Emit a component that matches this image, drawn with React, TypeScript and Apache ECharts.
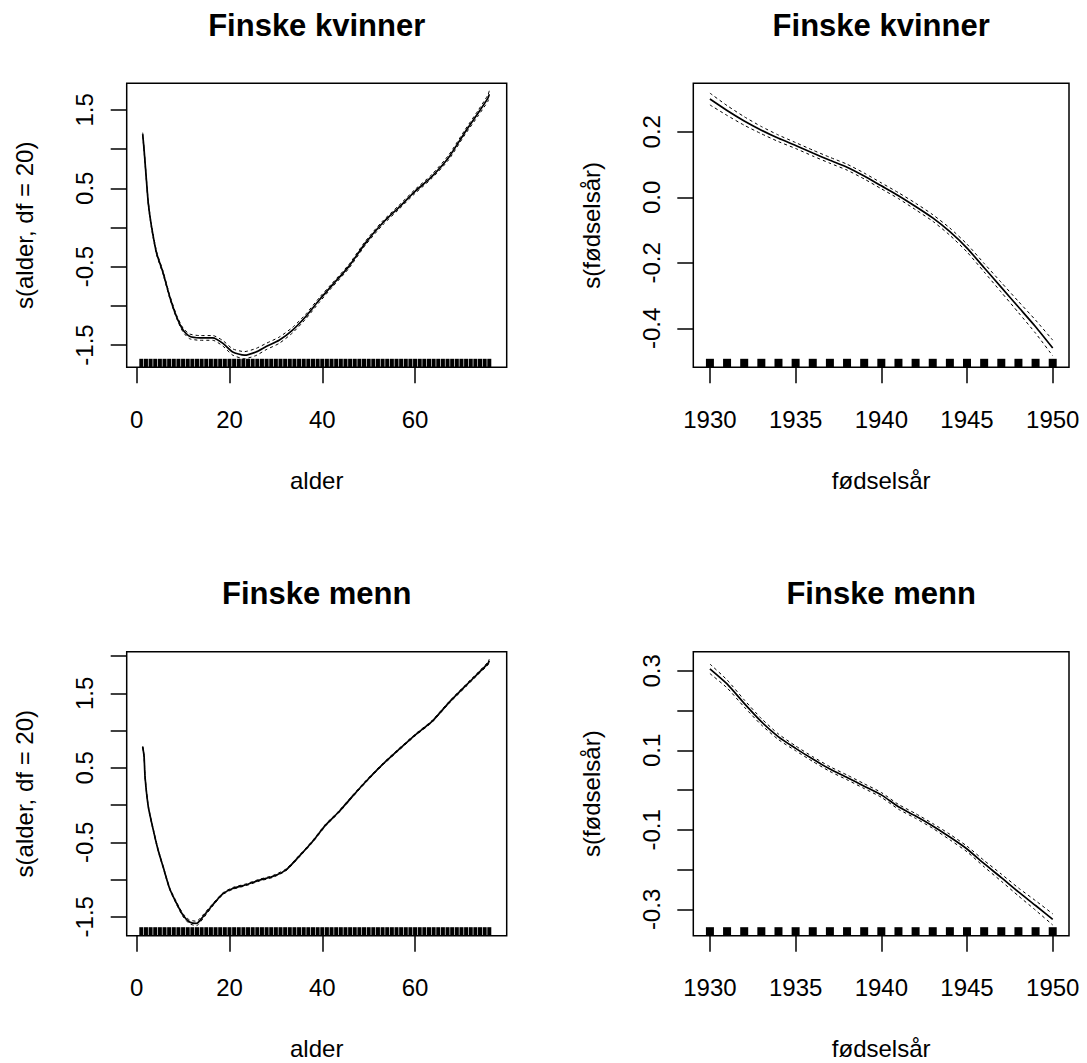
import React, { useEffect, useRef } from 'react';
import * as echarts from 'echarts';

const FONT = '"Liberation Sans", Arial, Helvetica, sans-serif';

// ---------- Panel titles / axis names ----------
const titles = ['Finske kvinner', 'Finske kvinner', 'Finske menn', 'Finske menn'];
const xNames = ['alder', 'fødselsår', 'alder', 'fødselsår'];
const yNames = ['s(alder, df = 20)', 's(fødselsår)', 's(alder, df = 20)', 's(fødselsår)'];

// ---------- Tick values ----------
const ageTicks = [0, 20, 40, 60];
const yearTicks = [1930, 1935, 1940, 1945, 1950];
const kvAlderYTicks = [-1.5, -1.0, -0.5, 0.0, 0.5, 1.0, 1.5];
const kvAlderYLabels = [-1.5, -0.5, 0.5, 1.5];
const kvAarYTicks = [-0.4, -0.2, 0.0, 0.2];
const kvAarYLabels = [-0.4, -0.2, 0.0, 0.2];
const mnAlderYTicks = [-1.5, -1.0, -0.5, 0.0, 0.5, 1.0, 1.5, 2.0];
const mnAlderYLabels = [-1.5, -0.5, 0.5, 1.5];
const mnAarYTicks = [-0.3, -0.2, -0.1, 0.0, 0.1, 0.2, 0.3];
const mnAarYLabels = [-0.3, -0.1, 0.1, 0.3];

// ---------- Rug values ----------
const rugAges = [
  1, 2, 3, 4, 5, 6, 7, 8, 9, 10, 11, 12, 13, 14, 15, 16, 17, 18, 19, 20,
  21, 22, 23, 24, 25, 26, 27, 28, 29, 30, 31, 32, 33, 34, 35, 36, 37, 38, 39, 40,
  41, 42, 43, 44, 45, 46, 47, 48, 49, 50, 51, 52, 53, 54, 55, 56, 57, 58, 59, 60,
  61, 62, 63, 64, 65, 66, 67, 68, 69, 70, 71, 72, 73, 74, 75, 76,
];
const rugYears = [
  1930, 1931, 1932, 1933, 1934, 1935, 1936, 1937, 1938, 1939, 1940,
  1941, 1942, 1943, 1944, 1945, 1946, 1947, 1948, 1949, 1950,
];

// ---------- Finske kvinner: s(alder) ----------
const kvAlderX = [1.3, 1.6, 1.9, 2.5, 3.2, 4.3, 5.7, 7.1, 8.6, 10, 11.4, 13.6, 16.4, 18.6, 20.7, 23.2, 25.7, 27.9, 30.7, 33.6, 36.4, 39.3, 42.1, 45.7, 49.3, 52.9, 56.4, 60, 63.6, 67.2, 70.7, 73.6, 75.7, 76];
const kvAlderFit = [1.19, 0.99, 0.76, 0.31, 0.01, -0.33, -0.58, -0.88, -1.14, -1.31, -1.39, -1.41, -1.41, -1.48, -1.59, -1.63, -1.59, -1.52, -1.44, -1.31, -1.14, -0.93, -0.74, -0.50, -0.20, 0.05, 0.25, 0.46, 0.65, 0.89, 1.21, 1.46, 1.65, 1.70];
const kvAlderSe = [0.02, 0.02, 0.02, 0.02, 0.02, 0.02, 0.02, 0.02, 0.02, 0.025, 0.03, 0.03, 0.03, 0.035, 0.04, 0.045, 0.045, 0.04, 0.04, 0.035, 0.03, 0.03, 0.025, 0.025, 0.025, 0.025, 0.025, 0.025, 0.025, 0.03, 0.03, 0.035, 0.04, 0.045];

// ---------- Finske kvinner: s(fødselsår) ----------
const kvAarX = rugYears;
const kvAarFit = [0.300, 0.265, 0.233, 0.205, 0.180, 0.158, 0.135, 0.113, 0.092, 0.065, 0.035, 0.005, -0.028, -0.063, -0.105, -0.155, -0.215, -0.275, -0.335, -0.395, -0.460];
const kvAarSe = [0.018, 0.015, 0.013, 0.011, 0.010, 0.009, 0.009, 0.009, 0.009, 0.009, 0.009, 0.009, 0.010, 0.010, 0.011, 0.012, 0.013, 0.015, 0.017, 0.020, 0.024];

// ---------- Finske menn: s(alder) ----------
const mnAlderX = [1.3, 1.6, 1.8, 2.5, 3.6, 4.6, 5.7, 7.1, 8.6, 10, 11.4, 12.9, 14.3, 16.4, 18.6, 20.7, 23.6, 26.4, 29.3, 32.2, 35, 37.9, 40.7, 43.6, 46.4, 49.3, 52.9, 56.4, 60, 63.6, 67.2, 70.7, 73.6, 75.7, 76];
const mnAlderFit = [0.78, 0.65, 0.38, -0.02, -0.34, -0.60, -0.83, -1.12, -1.32, -1.48, -1.57, -1.59, -1.50, -1.34, -1.19, -1.12, -1.07, -1.01, -0.96, -0.87, -0.69, -0.49, -0.27, -0.09, 0.11, 0.31, 0.54, 0.74, 0.94, 1.12, 1.37, 1.59, 1.77, 1.90, 1.94];
const mnAlderSe = [0.012, 0.012, 0.012, 0.012, 0.012, 0.012, 0.012, 0.012, 0.015, 0.02, 0.025, 0.03, 0.025, 0.015, 0.012, 0.012, 0.012, 0.012, 0.012, 0.012, 0.012, 0.012, 0.012, 0.012, 0.012, 0.012, 0.012, 0.012, 0.012, 0.012, 0.012, 0.015, 0.015, 0.02, 0.02];

// ---------- Finske menn: s(fødselsår) ----------
const mnAarX = rugYears;
const mnAarFit = [0.305, 0.267, 0.218, 0.172, 0.134, 0.105, 0.078, 0.053, 0.032, 0.010, -0.012, -0.042, -0.065, -0.090, -0.118, -0.148, -0.185, -0.220, -0.256, -0.290, -0.325];
const mnAarSe = [0.012, 0.010, 0.009, 0.008, 0.007, 0.006, 0.006, 0.006, 0.006, 0.006, 0.006, 0.006, 0.006, 0.006, 0.007, 0.007, 0.008, 0.009, 0.010, 0.012, 0.014];

type Panel = {
  grid: { left: number; top: number; width: number; height: number };
  xRange: [number, number];
  yRange: [number, number];
  xTicks: number[];
  yTicks: number[];
  yLabels: number[];
  yDigits: number;
  x: number[];
  fit: number[];
  se: number[];
  rug: number[];
  rugWidth: number;
};

const panels: Panel[] = [
  {
    grid: { left: 126.7, top: 83.3, width: 380, height: 284 },
    xRange: [-2.15, 79.75], yRange: [-1.785, 1.84],
    xTicks: ageTicks, yTicks: kvAlderYTicks, yLabels: kvAlderYLabels, yDigits: 1,
    x: kvAlderX, fit: kvAlderFit, se: kvAlderSe, rug: rugAges, rugWidth: 4,
  },
  {
    grid: { left: 693.3, top: 83.3, width: 375.7, height: 284 },
    xRange: [1929.03, 1950.95], yRange: [-0.519, 0.348],
    xTicks: yearTicks, yTicks: kvAarYTicks, yLabels: kvAarYLabels, yDigits: 1,
    x: kvAarX, fit: kvAarFit, se: kvAarSe, rug: rugYears, rugWidth: 8,
  },
  {
    grid: { left: 126.7, top: 651.7, width: 380, height: 284 },
    xRange: [-2.15, 79.75], yRange: [-1.755, 2.06],
    xTicks: ageTicks, yTicks: mnAlderYTicks, yLabels: mnAlderYLabels, yDigits: 1,
    x: mnAlderX, fit: mnAlderFit, se: mnAlderSe, rug: rugAges, rugWidth: 4,
  },
  {
    grid: { left: 693.3, top: 651.7, width: 375.7, height: 284 },
    xRange: [1929.03, 1950.95], yRange: [-0.366, 0.348],
    xTicks: yearTicks, yTicks: mnAarYTicks, yLabels: mnAarYLabels, yDigits: 1,
    x: mnAarX, fit: mnAarFit, se: mnAarSe, rug: rugYears, rugWidth: 8,
  },
];

const textStyle = { fontFamily: FONT, color: '#000', fontSize: 24 };

export default function App() {
  const ref = useRef<HTMLDivElement>(null);

  useEffect(() => {
    if (!ref.current) return;
    const chart = echarts.init(ref.current, null, { renderer: 'svg' });

    const grids: any[] = [];
    const xAxes: any[] = [];
    const yAxes: any[] = [];
    const series: any[] = [];
    const graphics: any[] = [];

    panels.forEach((p, i) => {
      grids.push({
        ...p.grid,
        show: true,
        borderColor: '#000',
        borderWidth: 1.5,
        backgroundColor: 'transparent',
        containLabel: false,
      });
      xAxes.push({
        type: 'value',
        gridIndex: i,
        position: 'bottom',
        min: p.xRange[0],
        max: p.xRange[1],
        axisLine: { show: false, onZero: false },
        splitLine: { show: false },
        axisTick: {
          show: true,
          length: 16,
          customValues: p.xTicks,
          lineStyle: { color: '#000', width: 1.5 },
        },
        axisLabel: {
          ...textStyle,
          customValues: p.xTicks,
          margin: 40,
          formatter: (v: number) => String(Math.round(v)),
        },
        name: xNames[i],
        nameLocation: 'middle',
        nameGap: 101,
        nameTextStyle: { ...textStyle },
      });
      yAxes.push({
        type: 'value',
        gridIndex: i,
        position: 'left',
        min: p.yRange[0],
        max: p.yRange[1],
        axisLine: { show: false, onZero: false },
        splitLine: { show: false },
        axisTick: {
          show: true,
          length: 16,
          customValues: p.yTicks,
          lineStyle: { color: '#000', width: 1.5 },
        },
        axisLabel: {
          ...textStyle,
          customValues: p.yLabels,
          rotate: 90,
          margin: 30,
          formatter: (v: number) => v.toFixed(p.yDigits),
        },
        name: yNames[i],
        nameLocation: 'middle',
        nameGap: 90,
        nameTextStyle: { ...textStyle },
      });

      const fitData = p.x.map((x, k) => [x, p.fit[k]]);
      const upData = p.x.map((x, k) => [x, p.fit[k] + p.se[k]]);
      const loData = p.x.map((x, k) => [x, p.fit[k] - p.se[k]]);

      series.push({
        type: 'line',
        xAxisIndex: i,
        yAxisIndex: i,
        data: fitData,
        showSymbol: false,
        silent: true,
        smooth: 0.2,
        lineStyle: { color: '#000', width: 1.7 },
      });
      [upData, loData].forEach((d) => {
        series.push({
          type: 'line',
          xAxisIndex: i,
          yAxisIndex: i,
          data: d,
          showSymbol: false,
          silent: true,
          smooth: 0.2,
          lineStyle: { color: '#000', width: 1, type: [3, 3] },
        });
      });
      series.push({
        type: 'scatter',
        xAxisIndex: i,
        yAxisIndex: i,
        data: p.rug.map((v) => [v, p.yRange[0]]),
        symbol: 'rect',
        symbolSize: [p.rugWidth, 8.5],
        symbolOffset: [0, -4.25],
        silent: true,
        itemStyle: { color: '#000', opacity: 1 },
      });

      graphics.push({
        type: 'text',
        x: p.grid.left + p.grid.width / 2,
        y: i < 2 ? 25 : 593,
        style: {
          text: titles[i],
          font: `bold 31px ${FONT}`,
          fill: '#000',
          textAlign: 'center',
          textVerticalAlign: 'middle',
        },
      });
    });

    chart.setOption({
      animation: false,
      backgroundColor: '#fff',
      grid: grids,
      xAxis: xAxes,
      yAxis: yAxes,
      series,
      graphic: graphics,
    });

    return () => chart.dispose();
  }, []);

  return (
    <div
      ref={ref}
      style={{ position: 'absolute', left: 0, top: 0, width: 1087, height: 1063, background: '#fff' }}
    />
  );
}
